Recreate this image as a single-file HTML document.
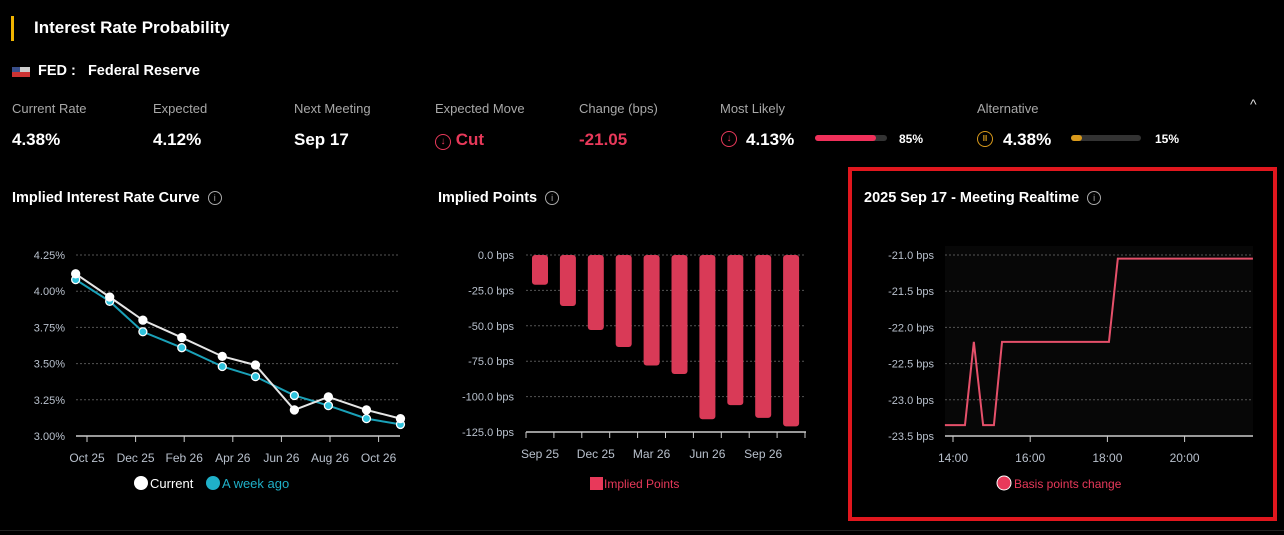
<!DOCTYPE html>
<html><head><meta charset="utf-8">
<style>
*{margin:0;padding:0;box-sizing:border-box}
body{width:1284px;height:535px;background:#000;color:#fff;font-family:"Liberation Sans",sans-serif;position:relative;overflow:hidden}
.a{position:absolute;white-space:nowrap}
.lbl{font-size:13px;color:#a8a8a8}
.val{font-size:17px;font-weight:bold;color:#fff}
.ct{font-size:14.5px;font-weight:bold;color:#fff}
.info{display:inline-block;width:14px;height:14px;border:1.3px solid #aaa;border-radius:50%;font-size:9px;color:#aaa;text-align:center;line-height:12px;margin-left:8px;vertical-align:1px;font-weight:normal}
svg text{font-family:"Liberation Sans",sans-serif}
</style></head><body>
<div class="a" style="left:11px;top:16px;width:3px;height:25px;background:#f0b400"></div>
<div class="a" style="left:34px;top:18px;font-size:17px;font-weight:bold">Interest Rate Probability</div>
<div class="a" style="left:12px;top:67px;width:18px;height:10px;background:linear-gradient(#ccc 0 50%,#c33 50%)"><div style="width:8px;height:5px;background:#3a4f8a"></div></div>
<div class="a" style="left:38px;top:63px;font-size:14.5px;font-weight:bold">FED :&nbsp;&nbsp; Federal Reserve</div>

<div class="a lbl" style="left:12px;top:101px">Current Rate</div>
<div class="a val" style="left:12px;top:130px">4.38%</div>
<div class="a lbl" style="left:153px;top:101px">Expected</div>
<div class="a val" style="left:153px;top:130px">4.12%</div>
<div class="a lbl" style="left:294px;top:101px">Next Meeting</div>
<div class="a val" style="left:294px;top:130px">Sep 17</div>
<div class="a lbl" style="left:435px;top:101px">Expected Move</div>
<div class="a val" style="left:435px;top:130px;color:#e8395a"><span style="display:inline-block;width:16px;height:16px;border:1.5px solid #e8395a;border-radius:50%;font-size:10px;text-align:center;line-height:13px;vertical-align:1px">↓</span> Cut</div>
<div class="a lbl" style="left:579px;top:101px">Change (bps)</div>
<div class="a val" style="left:579px;top:130px;color:#e8395a">-21.05</div>
<div class="a lbl" style="left:720px;top:101px">Most Likely</div>
<div class="a" style="left:721px;top:131px;width:16px;height:16px;border:1.5px solid #e8395a;border-radius:50%;font-size:10px;color:#e8395a;text-align:center;line-height:13px">↓</div>
<div class="a val" style="left:746px;top:130px">4.13%</div>
<div class="a" style="left:815px;top:135px;width:72px;height:6px;background:#333;border-radius:3px"><div style="width:85%;height:100%;background:#f0305a;border-radius:3px"></div></div>
<div class="a" style="left:899px;top:132px;font-size:12px;font-weight:bold">85%</div>
<div class="a lbl" style="left:977px;top:101px">Alternative</div>
<div class="a" style="left:977px;top:131px;width:16px;height:16px;border:1.5px solid #d99a1b;border-radius:50%;font-size:8px;color:#d99a1b;text-align:center;line-height:13px;font-weight:bold">II</div>
<div class="a val" style="left:1003px;top:130px">4.38%</div>
<div class="a" style="left:1071px;top:135px;width:70px;height:6px;background:#333;border-radius:3px"><div style="width:15%;height:100%;background:#d99a1b;border-radius:3px"></div></div>
<div class="a" style="left:1155px;top:132px;font-size:12px;font-weight:bold">15%</div>
<div class="a" style="left:1250px;top:96px;font-size:14px;color:#ddd">^</div>

<div class="a ct" style="left:12px;top:190px">Implied Interest Rate Curve<span class="info">i</span></div>
<div class="a ct" style="left:438px;top:190px">Implied Points<span class="info">i</span></div>
<div class="a" style="left:848px;top:167px;width:429px;height:354px;border:4px solid #e1171e"></div>
<div class="a ct" style="left:864px;top:190px">2025 Sep 17 - Meeting Realtime<span class="info">i</span></div>
<div class="a" style="left:0;top:530px;width:1284px;height:1px;background:#222"></div>

<svg class="a" style="left:0;top:0" width="1284" height="535">
<g id="c1"></g><g id="c2"></g><g id="c3"></g>
</svg>
<script>
// Chart 1 data
const c1Dates=["2025-09-17","2025-10-29","2025-12-10","2026-01-28","2026-03-18","2026-04-29","2026-06-17","2026-07-29","2026-09-16","2026-10-28"];
const c1Current=[4.12,3.96,3.80,3.68,3.55,3.49,3.18,3.27,3.18,3.12];
const c1WeekAgo=[4.08,3.93,3.72,3.61,3.48,3.41,3.28,3.21,3.12,3.08];
const c1YTicks=[3.00,3.25,3.50,3.75,4.00,4.25];
const c1XTicks=["2025-10","2025-12","2026-02","2026-04","2026-06","2026-08","2026-10"];
const c1XLabels=["Oct 25","Dec 25","Feb 26","Apr 26","Jun 26","Aug 26","Oct 26"];
// Chart 2 data
const c2Cats=["Sep 25","Oct 25","Dec 25","Jan 26","Mar 26","Apr 26","Jun 26","Jul 26","Sep 26","Oct 26"];
const c2Vals=[-21,-36,-53,-65,-78,-84,-116,-106,-115,-121];
const c2YTicks=[0,-25,-50,-75,-100,-125];
const c2XLabelIdx=[0,2,4,6,8];
// Chart 3 data
const c3Times=[13.79,14.31,14.54,14.78,15.06,15.27,18.04,18.27,21.77];
const c3Vals=[-23.35,-23.35,-22.2,-23.35,-23.35,-22.2,-22.2,-21.05,-21.05];
const c3YTicks=[-21.0,-21.5,-22.0,-22.5,-23.0,-23.5];
const c3XTicks=[14,16,18,20];
const c3XLabels=["14:00","16:00","18:00","20:00"];

const NS="http://www.w3.org/2000/svg";
function mk(p,t,a,txt){const e=document.createElementNS(NS,t);for(const k in a)e.setAttribute(k,a[k]);if(txt!==undefined)e.textContent=txt;p.appendChild(e);return e;}
function mon(s){const p=s.split("-").map(Number);return (p[0]-2025)*12+p[1]+((p[2]||1)-1)/30;}

// ---- chart 1
const g1=document.getElementById("c1");
const x1=m=>87+(m-10)*24.3, y1=v=>436-(v-3)/1.25*181;
c1YTicks.forEach(t=>{
  const l=mk(g1,"line",{x1:76,x2:400,y1:y1(t),y2:y1(t),stroke:t===3?"#ccc":"#555","stroke-dasharray":t===3?"":"2,2","stroke-width":t===3?1.5:1});
  
  
  const tx=mk(g1,"text",{x:65,y:y1(t)+4,"text-anchor":"end","font-size":11,fill:"#b8c0cc"},t.toFixed(2)+"%");
  
  
});
c1XTicks.forEach((t,i)=>{
  const x=x1(mon(t));
  const l=mk(g1,"line",{x1:x,x2:x,y1:436,y2:442,stroke:"#ccc"});
  
  
  const tx=mk(g1,"text",{x:x,y:462,"text-anchor":"middle","font-size":12,fill:"#b8c0cc"},c1XLabels[i]);
  
  
});
[[c1WeekAgo,"#1aa1b8","#2fc3dd","week-ago"],[c1Current,"#e6e6e6","#fff","current"]].forEach(([vals,lc,pc,nm])=>{
  const pts=vals.map((v,i)=>x1(mon(c1Dates[i]))+","+y1(v)).join(" ");
  const pl=mk(g1,"polyline",{points:pts,fill:"none",stroke:lc,"stroke-width":2});
  
  
  vals.forEach((v,i)=>{
    const c=mk(g1,"circle",{cx:x1(mon(c1Dates[i])),cy:y1(v),r:4,fill:pc,stroke:"#fff","stroke-width":1.3});
    
    
  });
});
let lg=mk(g1,"circle",{cx:141,cy:483,r:7,fill:"#fff"});


lg=mk(g1,"text",{x:150,y:488,"font-size":13,fill:"#fff"},"Current");


lg=mk(g1,"circle",{cx:213,cy:483,r:7,fill:"#1fb0c8"});


lg=mk(g1,"text",{x:222,y:488,"font-size":13,fill:"#1fb0c8"},"A week ago");



// ---- chart 2
const g2=document.getElementById("c2");
const y2=v=>255+(v/-125)*177, x2=i=>540+i*27.9;
c2YTicks.forEach(t=>{
  if(t!==-125){const l=mk(g2,"line",{x1:526,x2:806,y1:y2(t),y2:y2(t),stroke:"#555","stroke-dasharray":"2,2"});
  
  }
  const tx=mk(g2,"text",{x:514,y:y2(t)+4,"text-anchor":"end","font-size":11,fill:"#b8c0cc"},t.toFixed(1)+" bps");
  
  
});
let ax=mk(g2,"line",{x1:526,x2:806,y1:432,y2:432,stroke:"#ccc","stroke-width":1.5});


for(let i=0;i<=c2Cats.length;i++){
  const x=526+i*27.9;
  const l=mk(g2,"line",{x1:x,x2:x,y1:432,y2:438,stroke:"#ccc"});
  
  
}
c2Vals.forEach((v,i)=>{
  const r=mk(g2,"rect",{x:x2(i)-8,y:y2(0),width:16,height:y2(v)-y2(0),rx:3,fill:"#d93a57"});
  
  
});
c2XLabelIdx.forEach(i=>{
  const tx=mk(g2,"text",{x:x2(i),y:458,"text-anchor":"middle","font-size":12,fill:"#b8c0cc"},c2Cats[i]);
  
  
});
lg=mk(g2,"rect",{x:590,y:477,width:13,height:13,fill:"#e8395a"});


lg=mk(g2,"text",{x:604,y:488,"font-size":12,fill:"#e8395a"},"Implied Points");



// ---- chart 3
const g3=document.getElementById("c3");
const y3=v=>255+(-21-v)*72.4, x3=h=>953+(h-14)*38.6;
let bg=mk(g3,"rect",{x:945,y:246,width:308,height:190,fill:"#070707"});


c3YTicks.forEach(t=>{
  if(t!==-23.5){const l=mk(g3,"line",{x1:945,x2:1253,y1:y3(t),y2:y3(t),stroke:"#555","stroke-dasharray":"2,2"});
  
  }
  const tx=mk(g3,"text",{x:934,y:y3(t)+4,"text-anchor":"end","font-size":11,fill:"#b8c0cc"},t.toFixed(1)+" bps");
  
  
});
ax=mk(g3,"line",{x1:945,x2:1253,y1:436,y2:436,stroke:"#ccc","stroke-width":1.5});


c3XTicks.forEach((t,i)=>{
  const l=mk(g3,"line",{x1:x3(t),x2:x3(t),y1:436,y2:442,stroke:"#ccc"});
  
  
  const tx=mk(g3,"text",{x:x3(t),y:462,"text-anchor":"middle","font-size":12,fill:"#b8c0cc"},c3XLabels[i]);
  
  
});
const pl3=mk(g3,"polyline",{points:c3Vals.map((v,i)=>x3(c3Times[i])+","+y3(v)).join(" "),fill:"none",stroke:"#e5506a","stroke-width":2});


lg=mk(g3,"circle",{cx:1004,cy:483,r:7,fill:"#e8395a",stroke:"#fff","stroke-width":1});


lg=mk(g3,"text",{x:1014,y:488,"font-size":12,fill:"#e8395a"},"Basis points change");


</script>
</body></html>
